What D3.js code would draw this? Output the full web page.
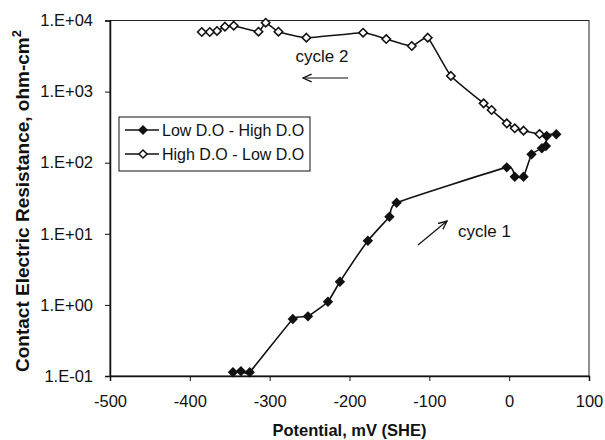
<!DOCTYPE html>
<html>
<head>
<meta charset="utf-8">
<script src="https://cdn.jsdelivr.net/npm/d3@7"></script>
<style>
  body { margin: 0; background: #fff; }
  svg { font-family: Arial, "Liberation Sans", sans-serif; }
</style>
</head>
<body>
<div id="chart"></div>
<script>
// cycle 1: Low D.O - High D.O (filled diamonds)
var lowHighX = [-346, -336, -325, -271, -252, -227, -212, -177, -150, -141, -3, 7, 18, 28, 41, 46, 47, 59];
var lowHighY = [0.113, 0.117, 0.113, 0.634, 0.69, 1.11, 2.12, 8.0, 17.4, 27.4, 86, 63.5, 63.5, 131, 160, 172, 238, 251];

// cycle 2: High D.O - Low D.O (open diamonds)
var highLowX = [59, 38, 18, 7, -3, -22, -32, -73, -102, -122, -154, -183, -254, -289, -305, -314, -345, -356, -366, -375, -385];
var highLowY = [251, 253, 282, 305, 358, 551, 684, 1660, 5730, 4380, 5490, 6730, 5730, 6950, 9310, 6950, 8450, 8180, 7120, 6890, 6890];

var xTicks = [-500, -400, -300, -200, -100, 0, 100];
var yTicks = [0.1, 1, 10, 100, 1000, 10000];
var yTickLabels = ["1.E-01", "1.E+00", "1.E+01", "1.E+02", "1.E+03", "1.E+04"];

var margin = { top: 20.5, right: 16, bottom: 64, left: 110 };
var W = 605, H = 440;
var width = W - margin.left - margin.right;
var height = H - margin.top - margin.bottom;

var xScale = d3.scaleLinear().domain([-500, 100]).range([0, width]);
var yScale = d3.scaleLog().domain([0.1, 10000]).range([height, 0]);

var svg = d3.select("#chart").append("svg")
  .attr("width", W)
  .attr("height", H);

var g = svg.append("g")
  .attr("transform", "translate(" + margin.left + "," + margin.top + ")");

// frame
g.append("rect")
  .attr("x", 0).attr("y", 0)
  .attr("width", width).attr("height", height)
  .attr("fill", "none")
  .attr("stroke", "#222")
  .attr("stroke-width", 1);

// axes
var xAxis = d3.axisBottom(xScale).tickValues(xTicks).tickSize(5).tickPadding(14)
  .tickFormat(function (d) { return d; });
var yAxis = d3.axisLeft(yScale).tickValues(yTicks).tickSize(5).tickPadding(12)
  .tickFormat(function (d, i) { return yTickLabels[i]; });

var gx = g.append("g").attr("transform", "translate(0," + height + ")").call(xAxis);
var gy = g.append("g").call(yAxis);
[gx, gy].forEach(function (a) {
  a.select(".domain").attr("stroke", "#111").attr("stroke-width", 1.5);
  a.selectAll(".tick line").attr("stroke", "#111");
  a.selectAll("text").attr("fill", "#111").style("font-size", "16.5px")
    .style("font-family", "Arial, 'Liberation Sans', sans-serif");
});

function toPts(xs, ys) {
  return xs.map(function (x, i) { return [x, ys[i]]; });
}
var cycle1 = toPts(lowHighX, lowHighY);
var cycle2 = toPts(highLowX, highLowY);

// lightly smoothed lines
var line = d3.line()
  .x(function (d) { return xScale(d[0]); })
  .y(function (d) { return yScale(d[1]); })
  .curve(d3.curveCardinal.tension(0.6));

function diamond(r) {
  return "M0," + (-r) + "L" + r + ",0L0," + r + "L" + (-r) + ",0Z";
}

// cycle 2 drawn first
g.append("path").datum(cycle2)
  .attr("d", line).attr("fill", "none")
  .attr("stroke", "#111").attr("stroke-width", 1.5);
g.selectAll(".m2").data(cycle2.slice(1)).enter().append("path")
  .attr("class", "m2")
  .attr("transform", function (d) { return "translate(" + xScale(d[0]) + "," + yScale(d[1]) + ")"; })
  .attr("d", diamond(4.2))
  .attr("fill", "#fff").attr("stroke", "#111").attr("stroke-width", 1.6);

g.append("path").datum(cycle1)
  .attr("d", line).attr("fill", "none")
  .attr("stroke", "#111").attr("stroke-width", 1.6);
g.selectAll(".m1").data(cycle1).enter().append("path")
  .attr("class", "m1")
  .attr("transform", function (d) { return "translate(" + xScale(d[0]) + "," + yScale(d[1]) + ")"; })
  .attr("d", diamond(5.2))
  .attr("fill", "#111");

// arrows + annotations
var defs = svg.append("defs");
defs.append("marker").attr("id", "arr")
  .attr("viewBox", "0 0 10 10").attr("refX", 9).attr("refY", 5)
  .attr("markerWidth", 8).attr("markerHeight", 8).attr("orient", "auto")
  .append("path").attr("d", "M0,1 L9,5 L0,9").attr("fill", "none")
  .attr("stroke", "#111").attr("stroke-width", 1.4);

svg.append("line").attr("x1", 348).attr("y1", 78).attr("x2", 303).attr("y2", 78)
  .attr("stroke", "#111").attr("stroke-width", 1.2).attr("marker-end", "url(#arr)");
svg.append("text").attr("x", 322).attr("y", 62).attr("text-anchor", "middle")
  .style("font-size", "17px").attr("fill", "#111").text("cycle 2");

svg.append("line").attr("x1", 418).attr("y1", 245).attr("x2", 447).attr("y2", 221)
  .attr("stroke", "#111").attr("stroke-width", 1.2).attr("marker-end", "url(#arr)");
svg.append("text").attr("x", 458).attr("y", 237)
  .style("font-size", "17px").attr("fill", "#111").text("cycle 1");

// legend
var lg = svg.append("g").attr("transform", "translate(119,117)");
lg.append("rect").attr("width", 191).attr("height", 54)
  .attr("fill", "#fff").attr("stroke", "#111").attr("stroke-width", 1);
var legendItems = [
  { label: "Low D.O - High D.O", filled: true },
  { label: "High D.O - Low D.O", filled: false }
];
legendItems.forEach(function (it, i) {
  var y = 13 + i * 24;
  lg.append("line").attr("x1", 6).attr("x2", 40).attr("y1", y).attr("y2", y)
    .attr("stroke", "#111").attr("stroke-width", 1.5);
  lg.append("path").attr("transform", "translate(24," + y + ")")
    .attr("d", diamond(it.filled ? 5 : 4))
    .attr("fill", it.filled ? "#111" : "#fff")
    .attr("stroke", "#111").attr("stroke-width", it.filled ? 0 : 1.5);
  lg.append("text").attr("x", 43).attr("y", y + 5.5)
    .style("font-size", "16px").attr("fill", "#111").text(it.label);
});

// axis titles
svg.append("text")
  .attr("x", margin.left + width / 2).attr("y", 436)
  .attr("text-anchor", "middle")
  .style("font-size", "16.5px").style("font-weight", "bold").attr("fill", "#111")
  .text("Potential, mV (SHE)");

var yt = svg.append("text")
  .attr("transform", "translate(29,201) rotate(-90)")
  .attr("text-anchor", "middle")
  .style("font-size", "19px").style("font-weight", "bold").attr("fill", "#111");
yt.append("tspan").text("Contact Electric Resistance, ohm-cm");
yt.append("tspan").attr("dy", -8).style("font-size", "13px").text("2");
</script>
</body>
</html>
